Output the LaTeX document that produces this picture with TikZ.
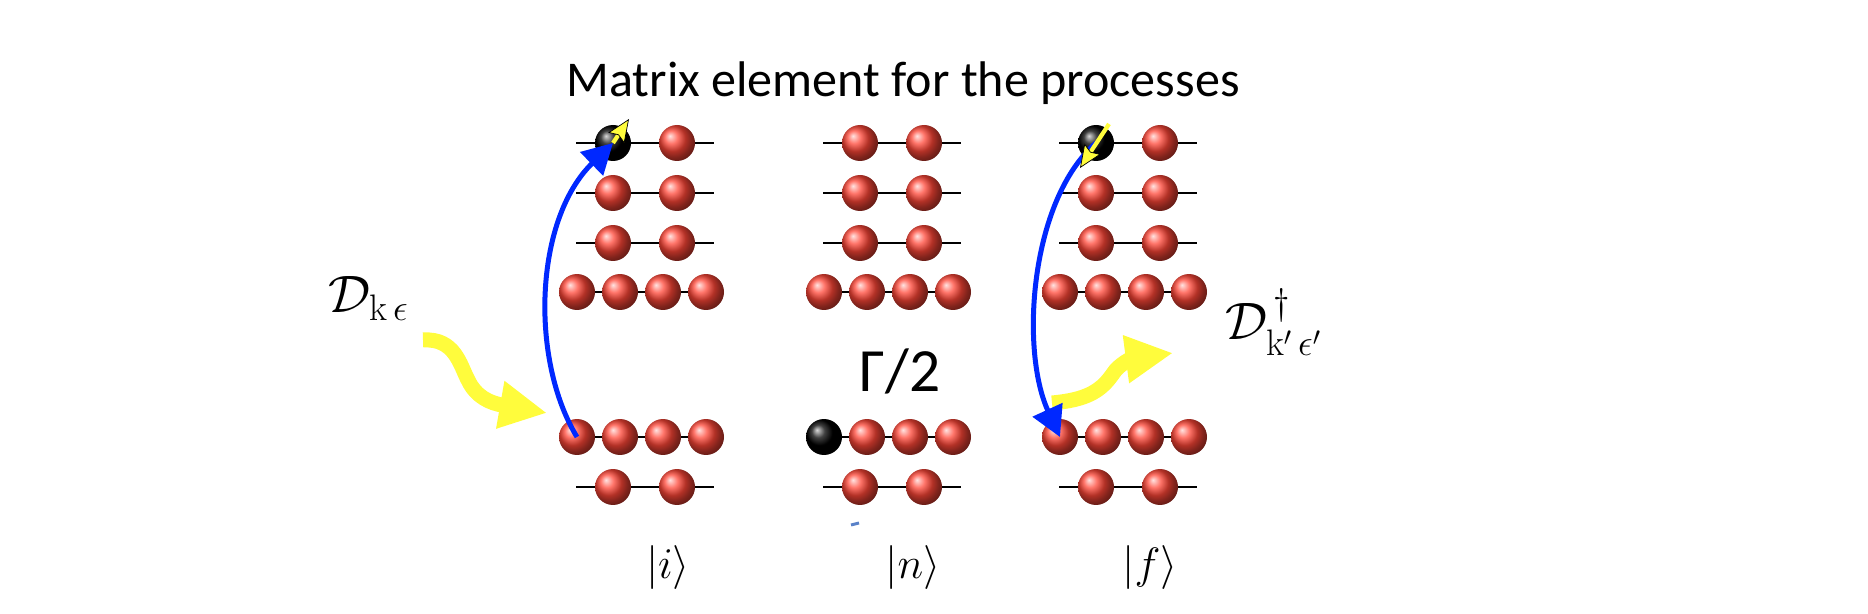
\documentclass[tikz,border=0pt]{standalone}
\usepackage{fix-cm}
\usepackage{amsmath,amssymb}
\usepackage{fontspec}
\newfontfamily\titlefont{Carlito}
\usetikzlibrary{positioning, arrows.meta, backgrounds, shapes}
\definecolor{ballred}{RGB}{255,70,55}
\definecolor{photonyellow}{RGB}{255,252,60}
\definecolor{hopblue}{RGB}{0,40,255}
\definecolor{smudgeblue}{RGB}{90,130,200}

\begin{document}
\begin{tikzpicture}[x=0.02cm, y=-0.02cm]
	\tikzstyle{ball}=[circle, minimum size=0.72cm, inner sep=0pt, ball color=ballred]
	\tikzstyle{hole}=[circle, minimum size=0.72cm, inner sep=0pt, ball color=black]
	\tikzstyle{orbit}=[line width=1.3pt, black]
	\tikzstyle{lead}=[orbit, shorten <=-0.74cm, shorten >=-0.74cm]
	\tikzstyle{hop}=[hopblue, line width=0.1cm, -{Triangle[length=0.6cm, width=0.64cm]}]
	\tikzstyle{photon}=[photonyellow, line width=0.3cm, -{Triangle[length=0.95cm, width=0.9cm]}]
	\tikzstyle{spin}=[photonyellow, line width=2.4pt, -{Stealth[length=13pt, width=11pt, inset=2pt, color=black, fill=photonyellow, line width=0.4pt]}]
	\useasboundingbox (0,0) rectangle (1868,614);

	% column |i>
	\node (i11) at (613,143) [hole]{};
	\node (i12) at (677,143) [ball]{};
	\node (i21) at (613,193) [ball]{};
	\node (i22) at (677,193) [ball]{};
	\node (i31) at (613,243) [ball]{};
	\node (i32) at (677,243) [ball]{};
	\node (i41) at (577,292) [ball]{};
	\node (i42) at (620,292) [ball]{};
	\node (i43) at (663,292) [ball]{};
	\node (i44) at (706,292) [ball]{};
	\node (i51) at (577,437) [ball]{};
	\node (i52) at (620,437) [ball]{};
	\node (i53) at (663,437) [ball]{};
	\node (i54) at (706,437) [ball]{};
	\node (i61) at (613,487) [ball]{};
	\node (i62) at (677,487) [ball]{};

	% column |n>
	\node (n11) at (860,143) [ball]{};
	\node (n12) at (924,143) [ball]{};
	\node (n21) at (860,193) [ball]{};
	\node (n22) at (924,193) [ball]{};
	\node (n31) at (860,243) [ball]{};
	\node (n32) at (924,243) [ball]{};
	\node (n41) at (824,292) [ball]{};
	\node (n42) at (867,292) [ball]{};
	\node (n43) at (910,292) [ball]{};
	\node (n44) at (953,292) [ball]{};
	\node (n51) at (824,437) [hole]{};
	\node (n52) at (867,437) [ball]{};
	\node (n53) at (910,437) [ball]{};
	\node (n54) at (953,437) [ball]{};
	\node (n61) at (860,487) [ball]{};
	\node (n62) at (924,487) [ball]{};

	% column |f>
	\node (f11) at (1096,143) [hole]{};
	\node (f12) at (1160,143) [ball]{};
	\node (f21) at (1096,193) [ball]{};
	\node (f22) at (1160,193) [ball]{};
	\node (f31) at (1096,243) [ball]{};
	\node (f32) at (1160,243) [ball]{};
	\node (f41) at (1060,292) [ball]{};
	\node (f42) at (1103,292) [ball]{};
	\node (f43) at (1146,292) [ball]{};
	\node (f44) at (1189,292) [ball]{};
	\node (f51) at (1060,437) [ball]{};
	\node (f52) at (1103,437) [ball]{};
	\node (f53) at (1146,437) [ball]{};
	\node (f54) at (1189,437) [ball]{};
	\node (f61) at (1096,487) [ball]{};
	\node (f62) at (1160,487) [ball]{};

	\begin{scope}[on background layer]
	\draw[lead] (i11.center) -- (i12.center);
	\draw[lead] (i21.center) -- (i22.center);
	\draw[lead] (i31.center) -- (i32.center);
	\draw[orbit] (i41.center) -- (i44.center);
	\draw[orbit] (i51.center) -- (i54.center);
	\draw[lead] (i61.center) -- (i62.center);
	\draw[lead] (n11.center) -- (n12.center);
	\draw[lead] (n21.center) -- (n22.center);
	\draw[lead] (n31.center) -- (n32.center);
	\draw[orbit] (n41.center) -- (n44.center);
	\draw[orbit] (n51.center) -- (n54.center);
	\draw[lead] (n61.center) -- (n62.center);
	\draw[lead] (f11.center) -- (f12.center);
	\draw[lead] (f21.center) -- (f22.center);
	\draw[lead] (f31.center) -- (f32.center);
	\draw[orbit] (f41.center) -- (f44.center);
	\draw[orbit] (f51.center) -- (f54.center);
	\draw[lead] (f61.center) -- (f62.center);
	\end{scope}

	% labels
	\node (title) at (903,97) [anchor=base] {\titlefont\fontsize{28.5}{30}\selectfont Matrix element for the processes};
	\node (gamma) at (900,392) [anchor=base] {\titlefont\fontsize{35}{37}\selectfont Γ/2};
	\node (din) at (328,313) [anchor=base west, inner sep=0pt] {\fontsize{30}{32}\selectfont $\mathcal{D}_{\mathrm{k}\,\epsilon}$};
	\node (dout) at (1225,340) [anchor=base west, inner sep=0pt] {\fontsize{30}{32}\selectfont $\mathcal{D}^{\,\dagger}_{\mathrm{k}'\,\epsilon'}$};
	\node (keti) at (668,568) {\fontsize{25}{27}\selectfont $|i\rangle$};
	\node (ketn) at (913,568) {\fontsize{25}{27}\selectfont $|n\rangle$};
	\node (ketf) at (1150,568) {\fontsize{25}{27}\selectfont $|f\rangle$};

	% photons in and out
	\coordinate (pin0) at (423,340);
	\coordinate (pin1) at (547,413);
	\draw[photon] (pin0) .. controls (455,338) and (460,365) .. (468,380) .. controls (476,397) and (490,403) .. (pin1);
	\coordinate (pout0) at (1052,403);
	\coordinate (pout1) at (1173,353);
	\draw[photon] (pout0) .. controls (1085,400) and (1100,392) .. (1112,375) .. controls (1120,362) and (1135,358) .. (pout1);

	% hopping
	\draw[hop] (i51.center) .. controls (530,360) and (534,220) .. (i11.center);
	\draw[hop] (f11.center) .. controls (1030,200) and (1020,350) .. (f51.center);

	% spins
	\coordinate (si) at (629,119);
	\draw[spin] (i11.center) -- (si);
	\coordinate (sf0) at (1109,124);
	\coordinate (sf1) at (1080,168);
	\draw[spin] (sf0) -- (sf1);

	\coordinate (sm0) at (851,525);
	\coordinate (sm1) at (859,523);
	\draw[smudgeblue, line width=0.06cm] (sm0) -- (sm1);
\end{tikzpicture}
\end{document}
